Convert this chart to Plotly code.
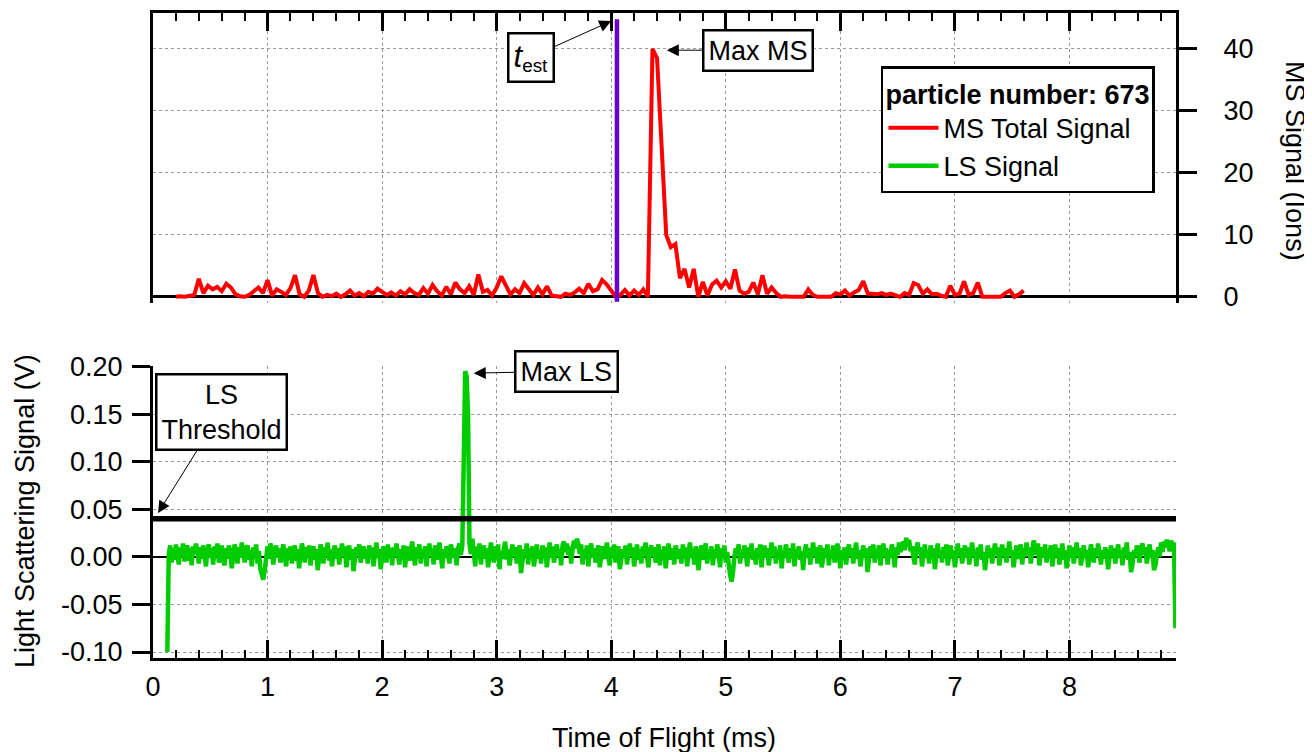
import numpy as np
import plotly.graph_objects as go

# ---------------- data ----------------
ms_start = 0.20      # ms
ms_step = 0.04       # ms
ms_signal = [
    0.0, 0.1, 0.0, 0.2, 0.3, 2.9, 0.6, 1.8, 1.2, 1.6,
    0.9, 2.1, 1.5, 0.4, 0.1, 0.0, 0.3, 0.9, 1.5, 0.6,
    2.7, 0.2, 1.2, 0.8, 0.3, 1.4, 3.5, 0.4, 0.0, 1.0,
    3.5, 0.6, 0.0, 0.3, 0.1, 0.5, 0.0, 0.4, 1.0, 0.2,
    0.6, 0.1, 0.8, 0.5, 1.3, 0.8, 0.3, 0.7, 0.2, 0.9,
    0.4, 1.2, 0.6, 0.3, 1.4, 0.5, 1.9, 0.9, 0.2, 1.6,
    0.4, 2.3, 1.2, 0.6, 1.7, 0.3, 3.6, 0.8, 1.1, 0.2,
    1.5, 3.3, 1.9, 0.4, 1.2, 0.6, 2.2, 1.3, 0.3, 1.5,
    0.4, 1.7, 0.2, 0.1, 0.0, 0.5, 0.3, 0.7, 1.3, 0.6,
    2.1, 0.9, 1.2, 2.7, 2.0, 1.0, 0.0, 0.3, 1.1, 0.2,
    1.0, 0.3, 1.2, 0.0, 40.0, 38.5, 24.0, 10.0, 8.0, 8.5,
    3.0, 4.5, 1.5, 4.5, 0.0, 2.4, 0.2, 2.0, 2.6, 1.5,
    2.5, 1.3, 4.4, 1.0, 0.5, 0.8, 2.3, 0.4, 3.5, 0.5,
    1.5, 0.6, 0.0, 0.1, 0.0, 0.0, 0.1, 0.0, 1.2, 0.3,
    0.0, 0.0, 0.1, 0.0, 0.6, 0.4, 1.0, 0.2, 0.7, 1.1,
    2.5, 0.5, 0.5, 0.4, 0.6, 0.3, 0.5, 0.2, 0.0, 0.6,
    0.3, 2.2, 1.9, 0.5, 1.2, 0.4, 0.5, 0.2, 0.0, 1.8,
    0.3, 0.5, 2.5, 0.3, 0.6, 2.3, 0.0, 0.0, 0.0, 0.1,
    0.0, 0.6, 1.0, 0.0, 0.4, 1.0,
]

ls_start = 0.125     # ms
ls_step = 0.0125     # ms
ls_signal_mV = [
    -100, 2, 12, -6, 9, -3, 13, 4, -8, 10, 1, 14, -5, 7, 12, -4, 9, -9, 11, 3,
    14, 5, -7, 10, -2, 12, 2, -10, 8, 13, -1, 9, -8, 11, 4, 14, -6, 7, 12, -3,
    -9, 9, -2, 12, 5, -12, 4, 13, 6, -7, 10, -1, 15, 3, -6, 9, 12, -3, 7, -10,
    10, 0, 13, -7, 6, -13, -17, -24, -14, 2, 11, -2, 14, 7, -8, 5, 12, -1, 9, -6,
    6, 13, 1, -10, 9, -3, 11, -7, 5, 12, -4, 8, -12, 3, 14, 6, -6, 10, 0, 12,
    -9, 5, 11, -3, 8, -14, 1, 13, 6, -7, 10, 2, 15, -4, 8, -10, 5, 12, -2, 9,
    -8, 6, 14, 0, 11, -11, 3, 12, -3, 8, -15, 0, 10, 4, 13, -6, 6, 11, -2, 8,
    -7, 12, 2, 10, -10, 5, 15, -1, 8, -13, 1, 11, 5, -6, 13, 2, 9, -9, 10, 0,
    14, 4, -8, 8, -2, 12, -11, 3, 11, -4, 6, 16, 1, -9, 10, 3, 13, -7, 8, -1,
    11, -10, 5, 14, 0, 8, -8, 12, -3, 6, 15, 2, -12, 8, -1, 11, 4, -7, 13, 6,
    -1, 9, -9, 8, 14, 2, 12, 100, 195, 190, 150, 14, 3, 19, 6, -10, 11, 0, 14, -8,
    6, 12, -2, 9, -11, 3, 15, 4, -6, 11, 0, 13, -13, 6, -2, 9, 16, -3, 8, -9,
    4, 13, 0, 10, -7, 6, 12, -17, -1, 8, 2, 14, -8, 9, 0, 11, -10, 4, 13, -2,
    7, -7, 12, 2, 10, -11, 6, 15, -1, 11, -6, 4, 13, 0, 8, -9, 12, 16, 5, 14,
    2, 11, -7, 8, 17, 9, 19, 14, 3, 13, -8, 7, 0, 12, -10, 6, 14, -1, 9, -6,
    4, 12, -11, 2, 11, -2, 8, 15, 0, -9, 10, 2, 13, -6, 6, 11, -13, 0, 8, -1,
    12, -8, 5, 14, 0, 10, -10, 3, 13, -3, 8, -7, 11, 2, 15, -1, -11, 6, 12, 0,
    10, -6, 4, 13, -9, 7, 0, 11, -12, 2, 14, 5, -3, 9, -8, 12, 3, -2, 8, -7,
    13, 1, 10, -10, 5, 15, -1, 8, -8, 11, 0, -14, 4, 12, -3, 7, 14, -7, 6, 2,
    11, -9, 8, -1, 13, 3, -11, 9, 0, 12, -6, 5, -13, -19, -26, -17, 0, 9, 3, 13,
    -7, 7, -1, 12, 3, -10, 10, 2, 14, -3, 7, -8, 9, 0, 13, -11, 5, 12, -1, 9,
    -9, 4, 15, 0, 11, -7, 7, 2, 12, -12, 6, -1, 13, 3, -6, 9, 0, 14, -10, 7,
    2, 11, -3, 6, -14, 4, 13, -1, 9, -8, 7, 15, 0, 10, -7, 5, 12, -11, 2, 9,
    -1, 13, -9, 7, 0, 12, -6, 5, 14, 2, -12, 7, -1, 10, -8, 4, 13, 0, 9, -7,
    5, 15, -2, 7, -10, 2, 12, -1, 9, -16, 4, 11, 0, 13, -6, 7, 2, 12, -9, 5,
    14, 0, 9, -8, 7, -1, 13, 3, -11, 10, 2, 15, 5, 11, 16, 7, 20, 12, 18, 6,
    11, 0, -8, 8, 15, 3, 10, -10, 5, 13, -1, 7, -7, 12, 2, 9, -13, 4, 14, 0,
    7, -6, 10, 2, 13, -9, 5, 12, -2, 7, -11, 2, 14, 0, 9, -7, 5, 12, -1, 10,
    -8, 4, 15, 0, 7, -10, 10, 2, 13, -3, 5, -14, 4, 12, -1, 9, -7, 7, 14, 2,
    10, -9, 5, 13, 0, 9, -6, 4, 16, 2, 7, -11, 1, 12, -2, 5, 13, -8, 9, 0,
    15, 3, 10, -7, 7, 17, 11, 2, 14, -9, 5, 10, -1, 13, -6, 7, 2, 12, -10, 4,
    13, 0, 9, -8, 5, 14, -3, 7, -12, 2, 12, -1, 10, -7, 4, 15, 0, 9, -9, 5,
    12, -1, 7, -11, 2, 13, 4, -6, 9, 0, 14, 5, -8, 7, -2, 10, 2, -13, 5, 12,
    0, 9, -7, 4, 13, -1, 7, -9, 10, 2, 15, -3, 5, -16, -8, 7, 0, 12, 4, -6,
    9, 14, 2, 10, -7, 5, 13, -1, 7, -14, -9, 2, 10, 0, 15, 5, 16, 10, 18, 12,
    6, 17, 11, 15, -75,
]

t_est = 4.05                 # ms
t_est_span = [-0.8, 44.8]    # ions (vertical marker extent)
ls_threshold = 0.04          # V
x_range = [0.0, 8.93]        # ms
particle_number = 673

x_tick_vals = [0, 1, 2, 3, 4, 5, 6, 7, 8]
ms_tick_vals = [0, 10, 20, 30, 40]
ls_tick_vals = [-0.10, -0.05, 0.00, 0.05, 0.10, 0.15, 0.20]
ls_tick_text = ["-0.10", "-0.05", "0.00", "0.05", "0.10", "0.15", "0.20"]

ms_time = ms_start + ms_step * np.arange(len(ms_signal))
ls_time = ls_start + ls_step * np.arange(len(ls_signal_mV))
ls_signal = np.array(ls_signal_mV) / 1000.0

# ---------------- figure ----------------
FONT = "Liberation Sans, Arial, sans-serif"
GRID = "#9a9a9a"
FS = 27

fig = go.Figure()

fig.add_trace(go.Scatter(x=ms_time, y=ms_signal, mode="lines", name="MS Total Signal",
                         line=dict(color="#ff0000", width=4), xaxis="x2", yaxis="y2"))
fig.add_trace(go.Scatter(x=[t_est, t_est], y=t_est_span, mode="lines", showlegend=False,
                         line=dict(color="#6a00cc", width=4.5), xaxis="x2", yaxis="y2"))
fig.add_trace(go.Scatter(x=ls_time, y=ls_signal, mode="lines", name="LS Signal",
                         line=dict(color="#00cc00", width=4.5), xaxis="x", yaxis="y"))
fig.add_trace(go.Scatter(x=x_range, y=[ls_threshold, ls_threshold], mode="lines", showlegend=False,
                         line=dict(color="#000000", width=5.5), xaxis="x", yaxis="y"))

common_x = dict(range=x_range, tickvals=x_tick_vals, ticks="inside", ticklen=18, tickwidth=2.5,
                tickcolor="black", showline=True, linewidth=3, linecolor="black",
                showgrid=True, gridcolor=GRID, griddash="dot", gridwidth=1, zeroline=False,
                automargin=False,
                minor=dict(dtick=0.2, ticks="inside", ticklen=8, tickwidth=2, tickcolor="black",
                           showgrid=False),
                tickfont=dict(family=FONT, size=FS, color="black"))

# The page body has an 8px margin, so the figure is 8px smaller and shifted.
# Plot area in the viewport: x 153..1176 px, y 13..658 px
fig.update_layout(
    width=1304, height=744,
    margin=dict(l=145, r=136, t=5, b=94),
    plot_bgcolor="white", paper_bgcolor="white",
    font=dict(family=FONT, size=FS, color="black"),
    xaxis=dict(domain=[0, 1], anchor="y", ticklabelstandoff=3, **common_x),
    xaxis2=dict(domain=[0, 1], anchor="y2", side="top", showticklabels=False, **common_x),
    yaxis=dict(domain=[0, 0.4527], anchor="x", range=[-0.1063, 0.2005],
               tickvals=ls_tick_vals, ticktext=ls_tick_text,
               ticks="outside", ticklen=18, tickwidth=2.5, tickcolor="black",
               showline=True, linewidth=3, linecolor="black",
               showgrid=True, gridcolor=GRID, griddash="dot", gridwidth=1,
               zeroline=True, zerolinecolor="black", zerolinewidth=1.5,
               automargin=False, ticklabelstandoff=4,
               tickfont=dict(family=FONT, size=FS, color="black")),
    yaxis2=dict(domain=[0.5504, 1], anchor="x2", side="right", range=[-1, 45.8],
                tickvals=ms_tick_vals,
                ticks="outside", ticklen=18, tickwidth=2.5, tickcolor="black",
                showline=True, mirror=True, linewidth=3, linecolor="black",
                showgrid=True, gridcolor=GRID, griddash="dot", gridwidth=1,
                zeroline=True, zerolinecolor="black", zerolinewidth=3,
                ticklabelstandoff=21, automargin=False,
                tickfont=dict(family=FONT, size=FS, color="black")),
    legend=dict(x=0.7116, y=0.9178, xanchor="left", yanchor="top",
                xref="paper", yref="paper",
                bgcolor="white", bordercolor="black", borderwidth=2.5,
                title=dict(text="<b>particle number: %d</b>" % particle_number,
                           font=dict(family=FONT, size=FS, color="black")),
                font=dict(family=FONT, size=FS, color="black"),
                itemwidth=50, tracegroupgap=0),
    showlegend=True,
)

box = dict(showarrow=True, arrowhead=2, arrowsize=2.4, arrowwidth=1, arrowcolor="black",
           bordercolor="black", borderwidth=2.5, borderpad=4, bgcolor="white",
           font=dict(family=FONT, size=FS, color="black"), standoff=0)

annotations = [
    dict(xref="x2", yref="y2", x=4.0, y=44.5, ax=-80, ay=36,
         text='<span style="font-size:31px"><i>t</i></span><sub>est</sub>', **box),
    dict(xref="x2", yref="y2", x=4.485, y=39.8, ax=91, ay=0, text="Max MS", **box),
    dict(xref="x", yref="y", x=2.80, y=0.193, ax=93, ay=-2, text="Max LS", **box),
    dict(xref="x", yref="y", x=0.044, y=0.046, ax=63, ay=-101, text="LS<br>Threshold", **box),
    dict(xref="paper", yref="paper", x=0.4995, y=-0.124, xanchor="center", yanchor="middle",
         showarrow=False, text="Time of Flight (ms)", font=dict(family=FONT, size=FS, color="black")),
    dict(xref="paper", yref="paper", x=-0.1251, y=0.2279, xanchor="center", yanchor="middle",
         showarrow=False, textangle=-90, text="Light Scattering Signal (V)",
         font=dict(family=FONT, size=FS, color="black")),
    dict(xref="paper", yref="paper", x=1.1163, y=0.7705, xanchor="center", yanchor="middle",
         showarrow=False, textangle=90, text="MS Signal (Ions)",
         font=dict(family=FONT, size=FS, color="black")),
]
fig.update_layout(annotations=annotations)

fig.write_html("out.html")
